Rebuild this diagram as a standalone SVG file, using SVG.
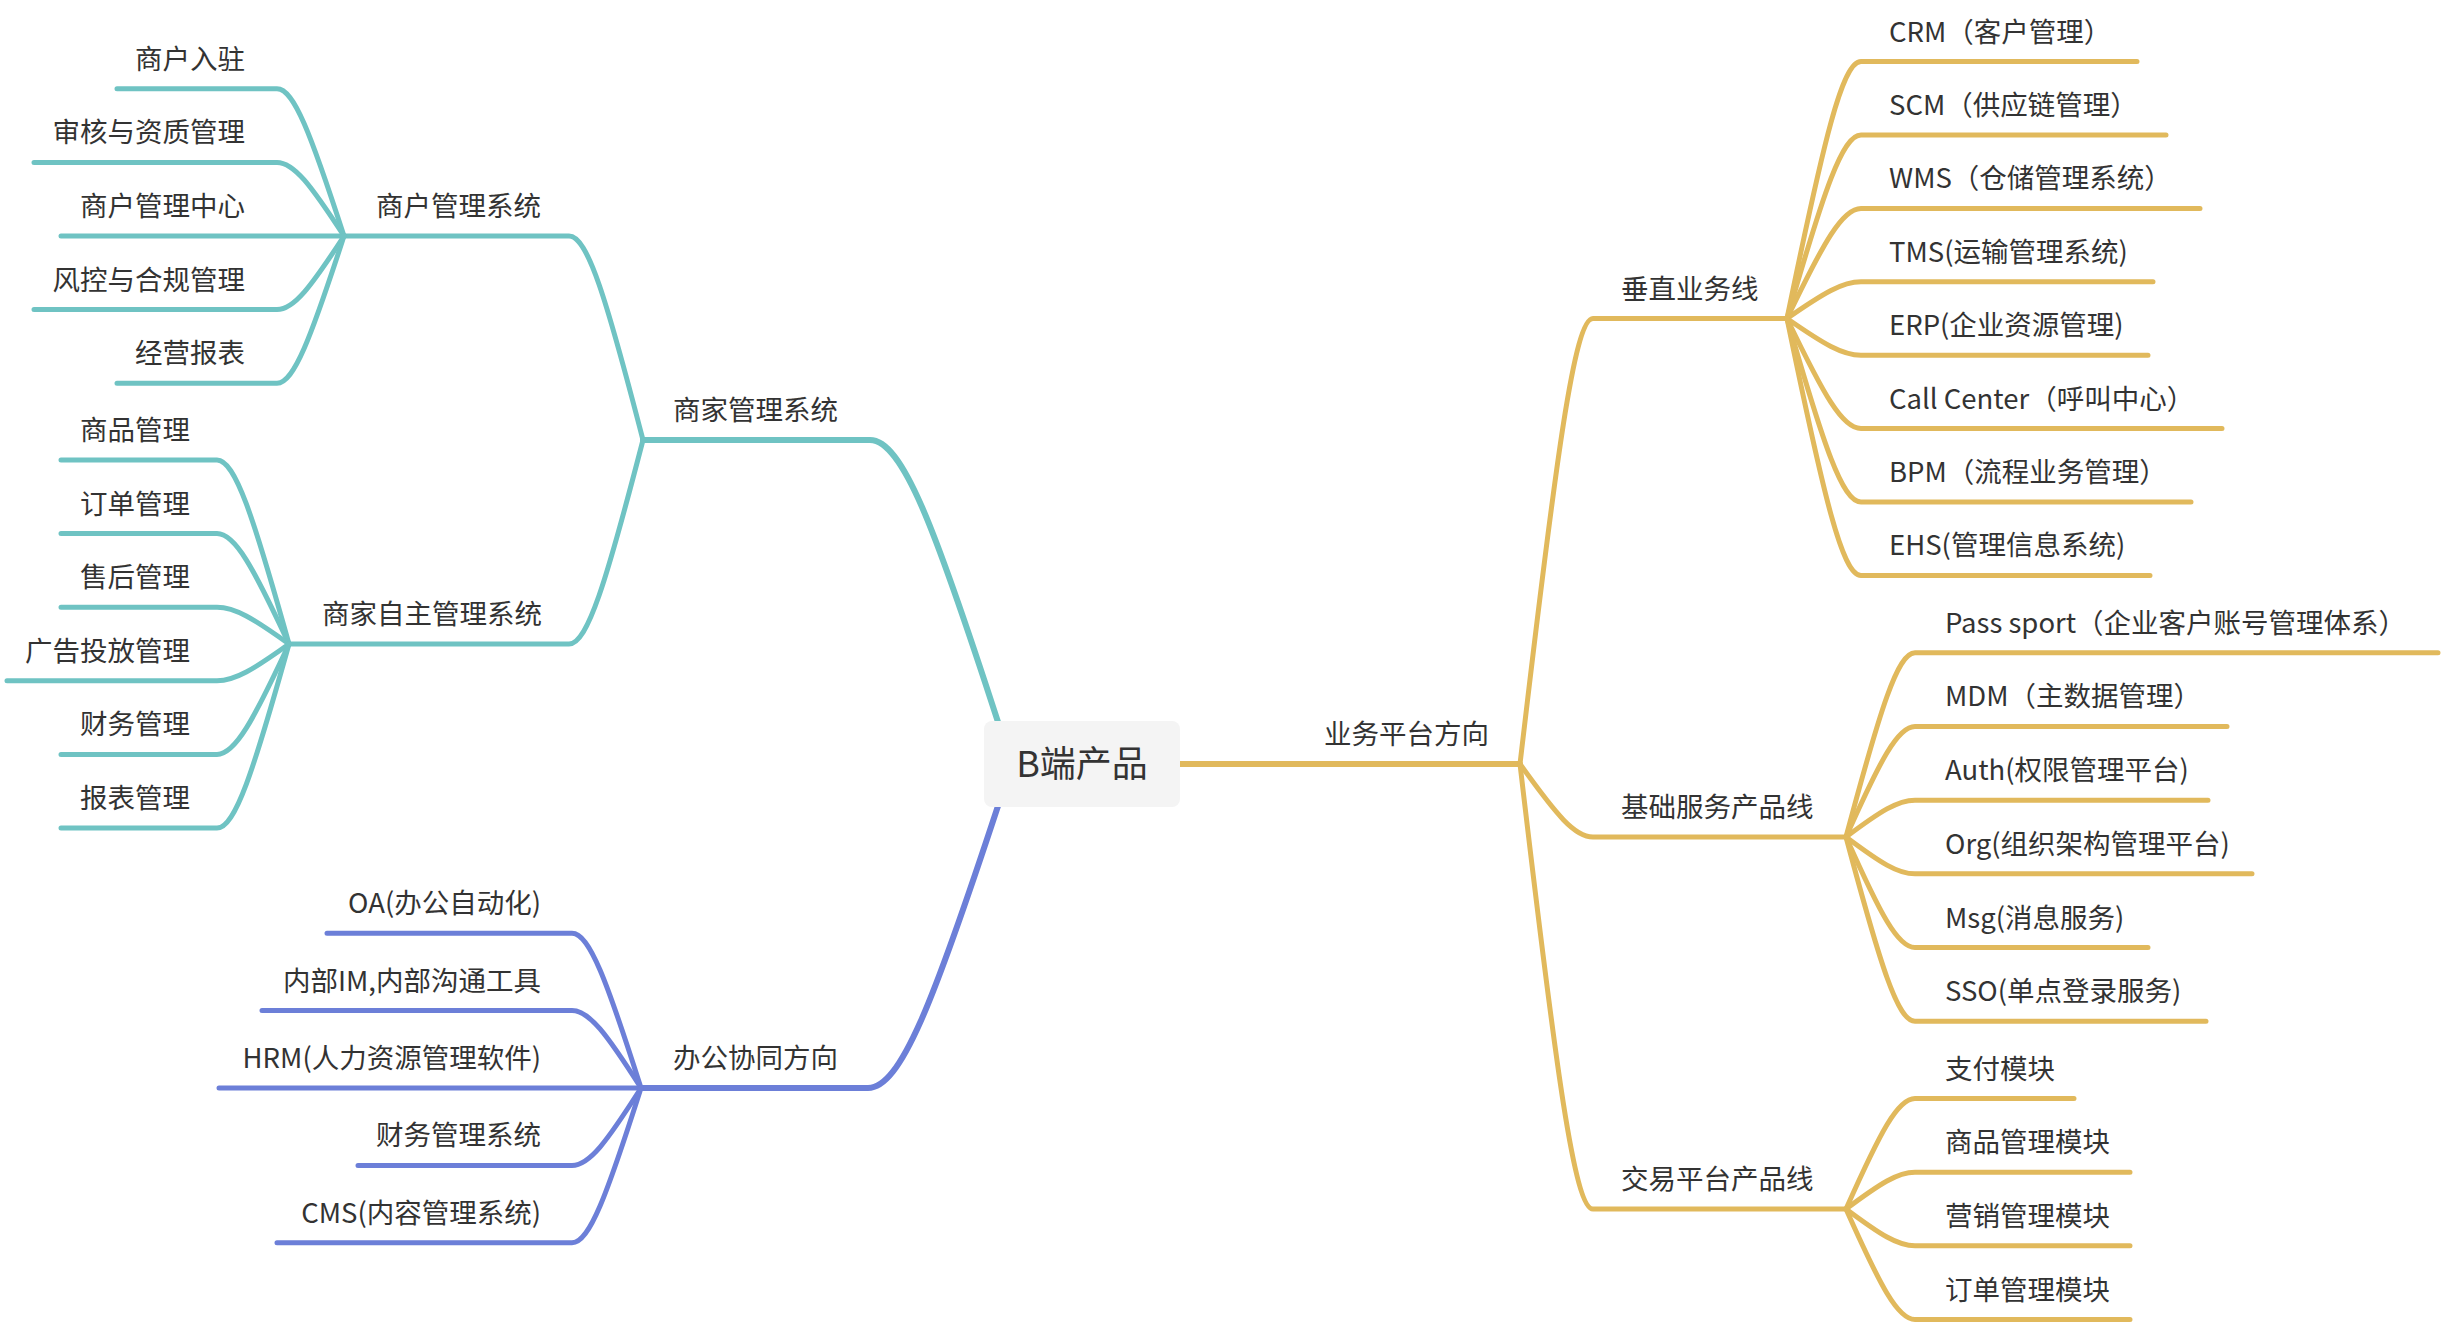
<svg xmlns="http://www.w3.org/2000/svg" width="2444" height="1324" viewBox="0 0 2444 1324">
<style>
.c{fill:none;stroke-linecap:round;stroke-linejoin:round;stroke-width:5}
.m{stroke-width:6}
.t{stroke:#6fc3c3}
.o{stroke:#e1b95c}
.b{stroke:#6c7fd8}
text{font-family:"Noto Sans CJK SC","Noto Sans",sans-serif;font-size:27.5px;fill:#333333}
.r{text-anchor:end}
.ctr{font-size:36px;text-anchor:middle}
</style>
<rect width="2444" height="1324" fill="#ffffff"/>
<g id="connectors">
<!-- teal -->
<path class="c m t" d="M998,722 C934,524.6 902,440 870,440 L643,440"/>
<path class="c t" d="M643,440 C606,297.2 587.5,236 569,236 L344,236"/>
<path class="c t" d="M643,440 C606,582.8 587.5,644 569,644 L289,644"/>
<path class="c t" d="M344,236 C310.5,132.96 293.75,88.8 277,88.8 L117,88.8"/>
<path class="c t" d="M344,236 C310.5,184.48 293.75,162.4 277,162.4 L34,162.4"/>
<path class="c t" d="M344,236 L61,236"/>
<path class="c t" d="M344,236 C310.5,287.52 293.75,309.6 277,309.6 L34,309.6"/>
<path class="c t" d="M344,236 C310.5,339.04 293.75,383.2 277,383.2 L117,383.2"/>
<path class="c t" d="M289,644 C253,515.2 235,460 217,460 L61,460"/>
<path class="c t" d="M289,644 C253,566.72 235,533.6 217,533.6 L61,533.6"/>
<path class="c t" d="M289,644 C253,618.24 235,607.2 217,607.2 L61,607.2"/>
<path class="c t" d="M289,644 C253,669.76 235,680.8 217,680.8 L7,680.8"/>
<path class="c t" d="M289,644 C253,721.28 235,754.4 217,754.4 L61,754.4"/>
<path class="c t" d="M289,644 C253,772.8 235,828 217,828 L61,828"/>
<!-- blue -->
<path class="c m b" d="M998,806 C933,1003.4 900.5,1088 868,1088 L641,1088"/>
<path class="c b" d="M641,1088 C606.5,979.64 589.25,933.2 572,933.2 L327,933.2"/>
<path class="c b" d="M641,1088 C606.5,1033.82 589.25,1010.6 572,1010.6 L262,1010.6"/>
<path class="c b" d="M641,1088 L219,1088"/>
<path class="c b" d="M641,1088 C606.5,1142.18 589.25,1165.4 572,1165.4 L358,1165.4"/>
<path class="c b" d="M641,1088 C606.5,1196.36 589.25,1242.8 572,1242.8 L277,1242.8"/>
<!-- orange -->
<path class="c m o" d="M1170,764 L1520,764"/>
<path class="c o" d="M1520,764 C1556.5,452.15 1574.75,318.5 1593,318.5 L1787,318.5"/>
<path class="c o" d="M1520,764 C1556.5,815.1 1574.75,837 1593,837 L1846,837"/>
<path class="c o" d="M1520,764 C1556.5,1075.5 1574.75,1209 1593,1209 L1846,1209"/>
<path class="c o" d="M1787,318.5 C1824,138.67 1842.5,61.6 1861,61.6 L2137,61.6"/>
<path class="c o" d="M1787,318.5 C1824,190.05 1842.5,135 1861,135 L2166,135"/>
<path class="c o" d="M1787,318.5 C1824,241.43 1842.5,208.4 1861,208.4 L2200,208.4"/>
<path class="c o" d="M1787,318.5 C1824,292.81 1842.5,281.8 1861,281.8 L2153,281.8"/>
<path class="c o" d="M1787,318.5 C1824,344.19 1842.5,355.2 1861,355.2 L2148,355.2"/>
<path class="c o" d="M1787,318.5 C1824,395.57 1842.5,428.6 1861,428.6 L2222,428.6"/>
<path class="c o" d="M1787,318.5 C1824,446.95 1842.5,502 1861,502 L2191,502"/>
<path class="c o" d="M1787,318.5 C1824,498.33 1842.5,575.4 1861,575.4 L2150,575.4"/>
<path class="c o" d="M1846,837 C1880.5,708.03 1897.75,652.75 1915,652.75 L2438,652.75"/>
<path class="c o" d="M1846,837 C1880.5,759.62 1897.75,726.45 1915,726.45 L2227,726.45"/>
<path class="c o" d="M1846,837 C1880.5,811.2 1897.75,800.15 1915,800.15 L2208,800.15"/>
<path class="c o" d="M1846,837 C1880.5,862.8 1897.75,873.85 1915,873.85 L2252,873.85"/>
<path class="c o" d="M1846,837 C1880.5,914.39 1897.75,947.55 1915,947.55 L2148,947.55"/>
<path class="c o" d="M1846,837 C1880.5,965.98 1897.75,1021.25 1915,1021.25 L2206,1021.25"/>
<path class="c o" d="M1846,1209 C1880.5,1131.65 1897.75,1098.5 1915,1098.5 L2074,1098.5"/>
<path class="c o" d="M1846,1209 C1880.5,1183.24 1897.75,1172.2 1915,1172.2 L2130,1172.2"/>
<path class="c o" d="M1846,1209 C1880.5,1234.76 1897.75,1245.8 1915,1245.8 L2130,1245.8"/>
<path class="c o" d="M1846,1209 C1880.5,1286.35 1897.75,1319.5 1915,1319.5 L2130,1319.5"/>
</g>
<g id="root"><rect x="984" y="721" width="196" height="86" rx="8" fill="#f4f4f4"/><text class="ctr" x="1082" y="777">B端产品</text></g>
<g id="n-shangjia"><text class="r" x="838" y="420">商家管理系统</text></g>
<g id="n-shanghu"><text class="r" x="541" y="216">商户管理系统</text></g>
<g id="n-zizhu"><text class="r" x="542" y="624">商家自主管理系统</text></g>
<g id="n-sh1"><text class="r" x="245" y="68.8">商户入驻</text></g>
<g id="n-sh2"><text class="r" x="245" y="142.4">审核与资质管理</text></g>
<g id="n-sh3"><text class="r" x="245" y="216">商户管理中心</text></g>
<g id="n-sh4"><text class="r" x="245" y="289.6">风控与合规管理</text></g>
<g id="n-sh5"><text class="r" x="245" y="363.2">经营报表</text></g>
<g id="n-zz1"><text class="r" x="190" y="440">商品管理</text></g>
<g id="n-zz2"><text class="r" x="190" y="513.6">订单管理</text></g>
<g id="n-zz3"><text class="r" x="190" y="587.2">售后管理</text></g>
<g id="n-zz4"><text class="r" x="190" y="660.8">广告投放管理</text></g>
<g id="n-zz5"><text class="r" x="190" y="734.4">财务管理</text></g>
<g id="n-zz6"><text class="r" x="190" y="808">报表管理</text></g>
<g id="n-bangong"><text class="r" x="838" y="1068">办公协同方向</text></g>
<g id="n-bg1"><text class="r" x="541" y="913.2">OA(办公自动化)</text></g>
<g id="n-bg2"><text class="r" x="541" y="990.6">内部IM,内部沟通工具</text></g>
<g id="n-bg3"><text class="r" x="541" y="1068">HRM(人力资源管理软件)</text></g>
<g id="n-bg4"><text class="r" x="541" y="1145.4">财务管理系统</text></g>
<g id="n-bg5"><text class="r" x="541" y="1222.8">CMS(内容管理系统)</text></g>
<g id="n-yewu"><text x="1324" y="744">业务平台方向</text></g>
<g id="n-chuizhi"><text x="1621" y="298.5">垂直业务线</text></g>
<g id="n-jichu"><text x="1621" y="817">基础服务产品线</text></g>
<g id="n-jiaoyi"><text x="1621" y="1189">交易平台产品线</text></g>
<g id="n-cz1"><text x="1889" y="41.6">CRM（客户管理）</text></g>
<g id="n-cz2"><text x="1889" y="115">SCM（供应链管理）</text></g>
<g id="n-cz3"><text x="1889" y="188.4">WMS（仓储管理系统）</text></g>
<g id="n-cz4"><text x="1889" y="261.8">TMS(运输管理系统)</text></g>
<g id="n-cz5"><text x="1889" y="335.2">ERP(企业资源管理)</text></g>
<g id="n-cz6"><text x="1889" y="408.6">Call Center（呼叫中心）</text></g>
<g id="n-cz7"><text x="1889" y="482">BPM（流程业务管理）</text></g>
<g id="n-cz8"><text x="1889" y="555.4">EHS(管理信息系统)</text></g>
<g id="n-jc1"><text x="1945" y="632.75">Pass sport（企业客户账号管理体系）</text></g>
<g id="n-jc2"><text x="1945" y="706.45">MDM（主数据管理）</text></g>
<g id="n-jc3"><text x="1945" y="780.15">Auth(权限管理平台)</text></g>
<g id="n-jc4"><text x="1945" y="853.85">Org(组织架构管理平台)</text></g>
<g id="n-jc5"><text x="1945" y="927.55">Msg(消息服务)</text></g>
<g id="n-jc6"><text x="1945" y="1001.25">SSO(单点登录服务)</text></g>
<g id="n-jy1"><text x="1945" y="1078.5">支付模块</text></g>
<g id="n-jy2"><text x="1945" y="1152.2">商品管理模块</text></g>
<g id="n-jy3"><text x="1945" y="1225.8">营销管理模块</text></g>
<g id="n-jy4"><text x="1945" y="1299.5">订单管理模块</text></g>
</svg>
